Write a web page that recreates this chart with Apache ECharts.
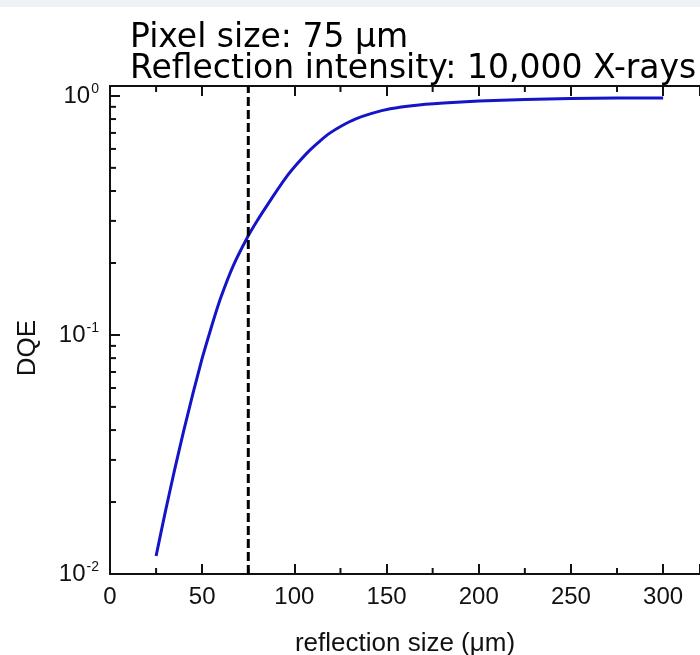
<!DOCTYPE html>
<html>
<head>
<meta charset="utf-8">
<script src="https://cdn.jsdelivr.net/npm/echarts@6/dist/echarts.min.js"></script>
<style>
  html, body { margin: 0; padding: 0; background: #fff; }
  #chart { width: 700px; height: 655px; }
</style>
</head>
<body>
<div id="chart"></div>
<script>
// curve: reflection size (um) -> DQE
const sizes = [25, 30, 35, 40, 45, 50, 55, 60, 67, 75, 80, 86, 91, 96, 102, 108, 114, 119, 126, 133, 142, 152, 165, 181, 200, 225, 250, 275, 300];
const dqe = [0.0119, 0.0182, 0.0272, 0.0398, 0.0569, 0.080, 0.108, 0.1426, 0.196, 0.260, 0.302, 0.356, 0.407, 0.462, 0.525, 0.589, 0.649, 0.697, 0.752, 0.800, 0.845, 0.883, 0.912, 0.933, 0.953, 0.966, 0.975, 0.979, 0.981];

const pixelSize = 75;
const yMin = 0.01;
const yMax = 1.1;
const xMin = 0;
const xMax = 320;

const xMinorTicks = [25, 75, 125, 175, 225, 275];
const yMinorTicks = [0.02, 0.03, 0.04, 0.05, 0.06, 0.07, 0.08, 0.09,
                     0.2, 0.3, 0.4, 0.5, 0.6, 0.7, 0.8, 0.9];

const titleLines = ['Pixel size: 75 µm', 'Reflection intensity: 10,000 X-rays'];

// minor ticks: [x, y, direction] 0 = up from bottom, 1 = down from top, 2 = right from left
const minorData = [];
xMinorTicks.forEach(v => { minorData.push([v, yMin, 0]); minorData.push([v, yMax, 1]); });
yMinorTicks.forEach(v => { minorData.push([xMin, v, 2]); });

const font = 'Liberation Sans, Arial, sans-serif';

function logLabel(v) {
  const e = Math.round(Math.log10(v));
  if (Math.abs(v - Math.pow(10, e)) > 1e-9) return '';
  return '{b|10}{s|' + e + '}';
}

const chart = echarts.init(document.getElementById('chart'));
chart.setOption({
  animation: false,
  backgroundColor: '#fff',
  title: {
    text: titleLines.join('\n'),
    left: 125,
    top: 18,
    textStyle: {
      fontFamily: 'DejaVu Sans',
      fontSize: 33,
      fontWeight: 'normal',
      lineHeight: 31,
      color: '#000'
    }
  },
  graphic: [
    { type: 'rect', left: 0, top: 0, shape: { width: 700, height: 7 }, style: { fill: '#eef2f6' }, z: -1 },
    {
      type: 'text', left: 15, top: 320, rotation: Math.PI / 2,
      style: { text: 'DQE', font: '26px Liberation Sans', fill: '#111' }
    }
  ],
  grid: { left: 110, right: 0, top: 86, bottom: 81, outerBoundsMode: 'none', containLabel: false },
  xAxis: [{
    type: 'value',
    min: xMin,
    max: xMax,
    interval: 50,
    name: 'reflection size (μm)',
    nameLocation: 'middle',
    nameGap: 57,
    nameTextStyle: { fontFamily: font, fontSize: 26, color: '#111' },
    axisLine: { lineStyle: { color: '#111', width: 2 } },
    axisTick: { inside: true, length: 10, lineStyle: { color: '#111', width: 2 } },
    axisLabel: {
      margin: 11,
      fontFamily: font, fontSize: 24, color: '#111',
      formatter: v => (v % 50 === 0 && v <= 300 ? String(v) : '')
    },
    splitLine: { show: false }
  }, {
    type: 'value',
    position: 'top',
    min: xMin,
    max: xMax,
    interval: 50,
    axisLine: { lineStyle: { color: '#111', width: 2 } },
    axisTick: { inside: true, length: 10, lineStyle: { color: '#111', width: 2 } },
    axisLabel: { show: false },
    splitLine: { show: false }
  }],
  yAxis: {
    type: 'log',
    min: yMin,
    max: yMax,
    axisLine: { show: true, lineStyle: { color: '#111', width: 2 } },
    axisTick: { inside: true, length: 10, lineStyle: { color: '#111', width: 2 } },
    axisLabel: {
      margin: 11,
      formatter: logLabel,
      rich: {
        b: { fontFamily: font, fontSize: 24, color: '#111' },
        s: { fontFamily: font, fontSize: 14, color: '#111', padding: [0, 0, 13, 1] }
      }
    },
    splitLine: { show: false }
  },
  series: [
    {
      type: 'line',
      data: sizes.map((s, i) => [s, dqe[i]]),
      smooth: 0.15,
      showSymbol: false,
      lineStyle: { color: '#1414c8', width: 3 }
    },
    {
      type: 'line',
      data: [[pixelSize, yMin], [pixelSize, yMax]],
      showSymbol: false,
      lineStyle: { color: '#000', width: 3, type: [9, 4] }
    },
    {
      type: 'custom',
      data: minorData,
      silent: true,
      renderItem: function (params, api) {
        const p = api.coord([api.value(0), api.value(1)]);
        const dir = api.value(2);
        const len = 6;
        let q;
        if (dir === 0) q = [p[0], p[1] - len];
        else if (dir === 1) q = [p[0], p[1] + len];
        else q = [p[0] + len, p[1]];
        return {
          type: 'line',
          shape: { x1: p[0], y1: p[1], x2: q[0], y2: q[1] },
          style: { stroke: '#111', lineWidth: 2 }
        };
      }
    }
  ]
});
</script>
</body>
</html>
